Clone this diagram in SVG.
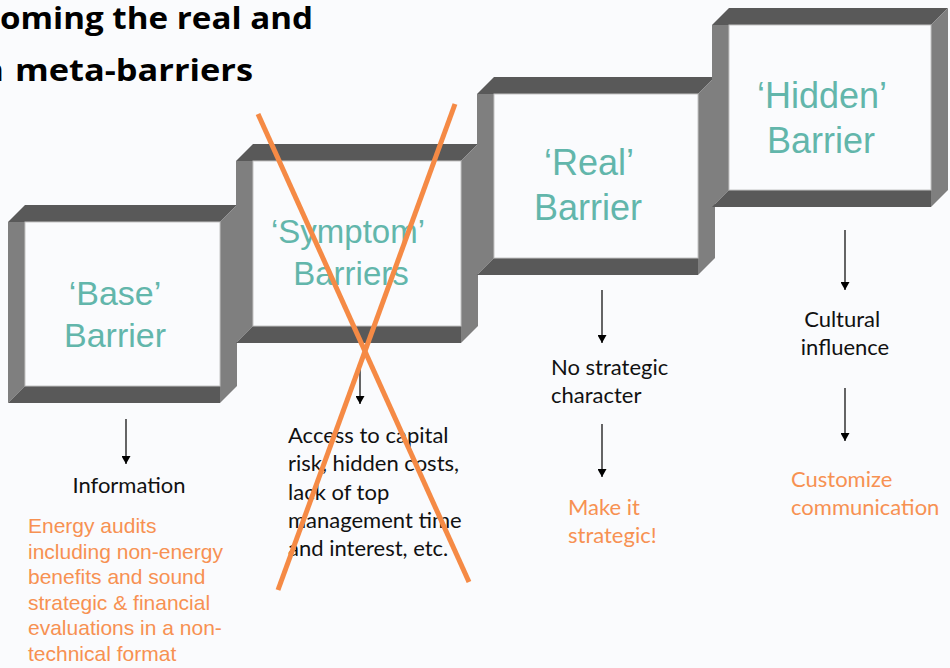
<svg xmlns="http://www.w3.org/2000/svg" width="950" height="668" viewBox="0 0 950 668">
  <defs>
    <style>
      .bg { fill: #fafbfd; }
      .dark { fill: #595959; }
      .light { fill: #7f7f7f; }
      .face { fill: #fafbfd; stroke: #c4c4c4; stroke-width: 1; }
      .label { font-family: "Liberation Sans", Arial, sans-serif; fill: #62b6ab; text-anchor: middle; }
      .title { font-family: "Open Sans", Lato, sans-serif; font-weight: bold; font-size: 31px; fill: #000; }
      .note { font-family: Lato, "Open Sans", sans-serif; font-size: 22px; fill: #111; }
      .hint { font-family: Lato, "Open Sans", sans-serif; font-size: 22px; fill: #f79152; }
      .hint-sans { font-family: "Liberation Sans", Arial, sans-serif; font-size: 21px; fill: #f79152; }
      .arrow { stroke: #000; stroke-width: 1.2; fill: none; marker-end: url(#head); }
      .cross { stroke: #f58a45; stroke-width: 5; stroke-linecap: butt; }
    </style>
    <marker id="head" viewBox="0 0 8 9" refX="8" refY="4.5" markerWidth="8" markerHeight="9" markerUnits="userSpaceOnUse" orient="auto">
      <path d="M0,0 L8,4.5 L0,9 z" fill="#000"/>
    </marker>
  </defs>

  <rect class="bg" x="0" y="0" width="950" height="668"/>

  <!-- heading (runs off the left edge) -->
  <g id="title">
    <text class="title" x="0" y="29" textLength="313" lengthAdjust="spacingAndGlyphs">oming the real and</text>
    <text class="title" x="3.5" y="81" text-anchor="end">n</text>
    <text class="title" x="15" y="81" textLength="238" lengthAdjust="spacingAndGlyphs">meta-barriers</text>
  </g>

  <!-- step 1 -->
  <g id="base-barrier">
    <polygon class="light" points="8,222 25,222 25,386 8,403"/>
    <polygon class="dark" points="8,222 25,205 237,205 220,222"/>
    <polygon class="light" points="220,222 237,205 237,386 220,403"/>
    <polygon class="dark" points="8,403 25,386 220,386 220,403"/>
    <rect class="face" x="25" y="222" width="195" height="164"/>
    <text class="label" font-size="34" x="115" y="305">‘Base’</text>
    <text class="label" font-size="34" x="115" y="347">Barrier</text>
  </g>

  <!-- step 2 -->
  <g id="symptom-barriers">
    <polygon class="light" points="236,161 253,161 253,326 236,343"/>
    <polygon class="dark" points="236,161 253,144 478,144 461,161"/>
    <polygon class="light" points="461,161 478,144 478,326 461,343"/>
    <polygon class="dark" points="236,343 253,326 461,326 461,343"/>
    <rect class="face" x="253" y="161" width="208" height="165"/>
    <text class="label" font-size="33" x="348" y="243">‘Symptom’</text>
    <text class="label" font-size="33" x="351" y="285">Barriers</text>
  </g>

  <!-- step 3 -->
  <g id="real-barrier">
    <polygon class="light" points="477,94 494,94 494,258 477,275"/>
    <polygon class="dark" points="477,94 494,77 715,77 698,94"/>
    <polygon class="light" points="698,94 715,77 715,258 698,275"/>
    <polygon class="dark" points="477,275 494,258 698,258 698,275"/>
    <rect class="face" x="494" y="94" width="204" height="164"/>
    <text class="label" font-size="36" x="589" y="175">‘Real’</text>
    <text class="label" font-size="36" x="588" y="220">Barrier</text>
  </g>

  <!-- step 4 -->
  <g id="hidden-barrier">
    <polygon class="light" points="712,25 729,25 729,190 712,207"/>
    <polygon class="dark" points="712,25 729,8 948,8 931,25"/>
    <polygon class="light" points="931,25 948,8 948,190 931,207"/>
    <polygon class="dark" points="712,207 729,190 931,190 931,207"/>
    <rect class="face" x="729" y="25" width="202" height="165"/>
    <text class="label" font-size="36" x="822" y="108">‘Hidden’</text>
    <text class="label" font-size="36" x="821" y="153">Barrier</text>
  </g>

  <!-- consequences and remedies -->
  <g id="information">
    <text class="note" x="129" y="493" text-anchor="middle">Information</text>
  </g>
  <g id="energy-audits">
    <text class="hint-sans" x="28">
      <tspan x="28" y="533">Energy audits</tspan>
      <tspan x="28" y="559">including non-energy</tspan>
      <tspan x="28" y="584">benefits and sound</tspan>
      <tspan x="28" y="610">strategic &amp; financial</tspan>
      <tspan x="28" y="635">evaluations in a non-</tspan>
      <tspan x="28" y="661">technical format</tspan>
    </text>
  </g>
  <g id="capital-access">
    <text class="note">
      <tspan x="288" y="443">Access to capital</tspan>
      <tspan x="288" y="471">risk, hidden costs,</tspan>
      <tspan x="288" y="500">lack of top</tspan>
      <tspan x="288" y="528">management time</tspan>
      <tspan x="288" y="556">and interest, etc.</tspan>
    </text>
  </g>
  <g id="no-strategic-character">
    <text class="note">
      <tspan x="551" y="375">No strategic</tspan>
      <tspan x="551" y="403">character</tspan>
    </text>
  </g>
  <g id="make-it-strategic">
    <text class="hint">
      <tspan x="568" y="515">Make it</tspan>
      <tspan x="568" y="543">strategic!</tspan>
    </text>
  </g>
  <g id="cultural-influence">
    <text class="note" text-anchor="middle">
      <tspan x="845" y="327">Cultural</tspan>
      <tspan x="845" y="355">influence</tspan>
    </text>
  </g>
  <g id="customize-communication">
    <text class="hint">
      <tspan x="791" y="487">Customize</tspan>
      <tspan x="791" y="515">communication</tspan>
    </text>
  </g>

  <!-- connectors -->
  <g id="connectors">
    <line class="arrow" x1="126" y1="419" x2="126" y2="464"/>
    <line class="arrow" x1="360" y1="362" x2="360" y2="404"/>
    <line class="arrow" x1="602" y1="290" x2="602" y2="343"/>
    <line class="arrow" x1="602" y1="424" x2="602" y2="477"/>
    <line class="arrow" x1="845" y1="230" x2="845" y2="290"/>
    <line class="arrow" x1="845" y1="388" x2="845" y2="441"/>
  </g>

  <!-- strike-through over the symptom step -->
  <g id="cross-out">
    <line class="cross" x1="258" y1="114" x2="469" y2="582"/>
    <line class="cross" x1="455" y1="104" x2="278" y2="590"/>
  </g>
</svg>
